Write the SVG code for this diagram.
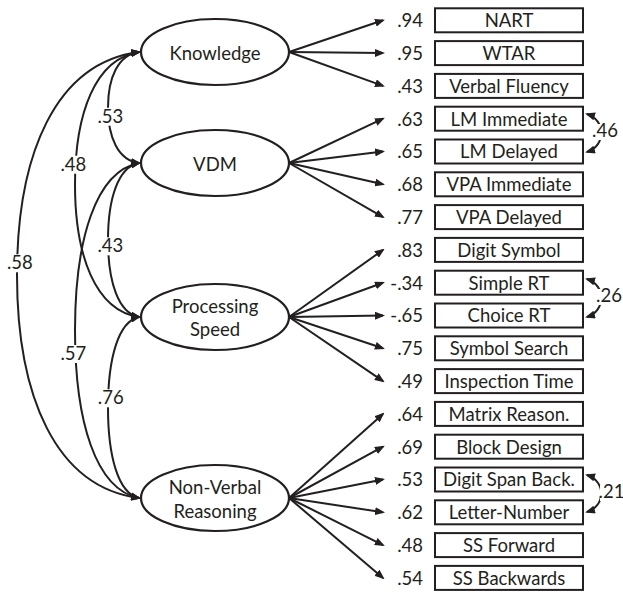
<svg xmlns="http://www.w3.org/2000/svg" width="623" height="592" viewBox="0 0 623 592">
<style>
text{font-family:Lato,"Liberation Sans",sans-serif;font-size:18.5px;fill:#231f20}
.c{text-anchor:middle}
.e{text-anchor:end}
.box{fill:#fff;stroke:#231f20;stroke-width:2}
.lat{fill:#fff;stroke:#231f20;stroke-width:2.2}
.ln{fill:none;stroke:#231f20;stroke-width:2}
.bg{fill:#fff}
</style>
<defs>
<marker id="ah" markerUnits="userSpaceOnUse" markerWidth="10" markerHeight="8" refX="8" refY="4" orient="auto-start-reverse" viewBox="0 0 10 8">
<path d="M0,0 L10,4 L0,8 z" fill="#231f20"/>
</marker>
</defs>

<g id="connectors">
<g id="loadings" class="ln" marker-end="url(#ah)">
<path d="M289,52 L383,20.3"/>
<path d="M289,52 L383,53.1"/>
<path d="M289,52 L383,85.9"/>
<path d="M289,163 L383,118.7"/>
<path d="M289,163 L383,151.5"/>
<path d="M289,163 L383,184.3"/>
<path d="M289,163 L383,217.1"/>
<path d="M289,317 L383,249.9"/>
<path d="M289,317 L383,282.7"/>
<path d="M289,317 L383,315.5"/>
<path d="M289,317 L383,348.3"/>
<path d="M289,317 L383,381.1"/>
<path d="M289,498 L383,413.9"/>
<path d="M289,498 L383,446.7"/>
<path d="M289,498 L383,479.5"/>
<path d="M289,498 L383,512.3"/>
<path d="M289,498 L383,545.1"/>
<path d="M289,498 L383,577.9"/>
</g>
<g id="correlations" class="ln" marker-start="url(#ah)" marker-end="url(#ah)">
<path d="M139,52 C55,63 17,155 17,275 C17,395 55,487 139,498"/>
<path d="M139,52 C95.5,58.6 75,113 75,184.5 C75,256 95.5,310.4 139,317"/>
<path d="M139,163 C95.5,171.4 75,240 75,330.5 C75,421 95.5,489.6 139,498"/>
<path d="M139,52 C118.2,54.8 108,77.5 108,107.5 C108,137.5 118.2,160.2 139,163"/>
<path d="M139,163 C118.2,166.9 108,198.4 108,240 C108,281.6 118.2,313.1 139,317"/>
<path d="M139,317 C118.2,321.5 108,358.6 108,407.5 C108,456.4 118.2,493.5 139,498"/>
<path d="M587,114 C606,120 606,146 587,152"/>
<path d="M587,279 C606,285 606,311 587,317"/>
<path d="M587,475 C606,481 606,506 587,512"/>
</g>
<g id="corr-labels">
<rect class="bg" x="97" y="107.7" width="27" height="18"/><text class="c" x="110.3" y="122.7">.53</text>
<rect class="bg" x="60" y="155.7" width="27" height="18"/><text class="c" x="73.3" y="170.7">.48</text>
<rect class="bg" x="6" y="254.3" width="27" height="18"/><text class="c" x="19.8" y="269.3">.58</text>
<rect class="bg" x="97" y="237.3" width="27" height="18"/><text class="c" x="110.3" y="252.3">.43</text>
<rect class="bg" x="60" y="345" width="27" height="18"/><text class="c" x="73.3" y="360">.57</text>
<rect class="bg" x="97" y="389.3" width="27" height="18"/><text class="c" x="110.7" y="404.3">.76</text>
<rect class="bg" x="592" y="124" width="26" height="16"/><text class="c" x="605" y="137">.46</text>
<rect class="bg" x="597" y="289" width="25" height="16"/><text class="c" x="609" y="302.3">.26</text>
<rect class="bg" x="600" y="485" width="23" height="16"/><text class="c" x="611.5" y="498.3">.21</text>
</g>
</g>

<g id="knowledge"><ellipse class="lat" cx="215" cy="52" rx="74" ry="33"/><text class="c" x="215" y="59.5">Knowledge</text></g>
<g id="vdm"><ellipse class="lat" cx="215" cy="163" rx="74" ry="33"/><text class="c" x="215" y="170.5">VDM</text></g>
<g id="processing-speed"><ellipse class="lat" cx="215" cy="317" rx="74" ry="33"/><text class="c" x="215" y="312.5">Processing</text><text class="c" x="215" y="336">Speed</text></g>
<g id="non-verbal-reasoning"><ellipse class="lat" cx="215" cy="498" rx="74" ry="33"/><text class="c" x="215" y="494">Non-Verbal</text><text class="c" x="215" y="518.3">Reasoning</text></g>

<g id="nart"><rect class="box" x="435" y="8.3" width="148" height="24"/><text class="c" x="509" y="27.1">NART</text><text class="e" x="423" y="27.1">.94</text></g>
<g id="wtar"><rect class="box" x="435" y="41.1" width="148" height="24"/><text class="c" x="509" y="59.9">WTAR</text><text class="e" x="423" y="59.9">.95</text></g>
<g id="verbal-fluency"><rect class="box" x="435" y="73.9" width="148" height="24"/><text class="c" x="509" y="92.7">Verbal Fluency</text><text class="e" x="423" y="92.7">.43</text></g>
<g id="lm-immediate"><rect class="box" x="435" y="106.7" width="148" height="24"/><text class="c" x="509" y="125.5">LM Immediate</text><text class="e" x="423" y="125.5">.63</text></g>
<g id="lm-delayed"><rect class="box" x="435" y="139.5" width="148" height="24"/><text class="c" x="509" y="158.3">LM Delayed</text><text class="e" x="423" y="158.3">.65</text></g>
<g id="vpa-immediate"><rect class="box" x="435" y="172.3" width="148" height="24"/><text class="c" x="509" y="191.1">VPA Immediate</text><text class="e" x="423" y="191.1">.68</text></g>
<g id="vpa-delayed"><rect class="box" x="435" y="205.1" width="148" height="24"/><text class="c" x="509" y="223.9">VPA Delayed</text><text class="e" x="423" y="223.9">.77</text></g>
<g id="digit-symbol"><rect class="box" x="435" y="237.9" width="148" height="24"/><text class="c" x="509" y="256.7">Digit Symbol</text><text class="e" x="423" y="256.7">.83</text></g>
<g id="simple-rt"><rect class="box" x="435" y="270.7" width="148" height="24"/><text class="c" x="509" y="289.5">Simple RT</text><text class="e" x="423" y="289.5">-.34</text></g>
<g id="choice-rt"><rect class="box" x="435" y="303.5" width="148" height="24"/><text class="c" x="509" y="322.3">Choice RT</text><text class="e" x="423" y="322.3">-.65</text></g>
<g id="symbol-search"><rect class="box" x="435" y="336.3" width="148" height="24"/><text class="c" x="509" y="355.1">Symbol Search</text><text class="e" x="423" y="355.1">.75</text></g>
<g id="inspection-time"><rect class="box" x="435" y="369.1" width="148" height="24"/><text class="c" x="509" y="387.9">Inspection Time</text><text class="e" x="423" y="387.9">.49</text></g>
<g id="matrix-reason"><rect class="box" x="435" y="401.9" width="148" height="24"/><text class="c" x="509" y="420.7">Matrix Reason.</text><text class="e" x="423" y="420.7">.64</text></g>
<g id="block-design"><rect class="box" x="435" y="434.7" width="148" height="24"/><text class="c" x="509" y="453.5">Block Design</text><text class="e" x="423" y="453.5">.69</text></g>
<g id="digit-span-back"><rect class="box" x="435" y="467.5" width="148" height="24"/><text class="c" x="509" y="486.3">Digit Span Back.</text><text class="e" x="423" y="486.3">.53</text></g>
<g id="letter-number"><rect class="box" x="435" y="500.3" width="148" height="24"/><text class="c" x="509" y="519.1">Letter-Number</text><text class="e" x="423" y="519.1">.62</text></g>
<g id="ss-forward"><rect class="box" x="435" y="533.1" width="148" height="24"/><text class="c" x="509" y="551.9">SS Forward</text><text class="e" x="423" y="551.9">.48</text></g>
<g id="ss-backwards"><rect class="box" x="435" y="565.9" width="148" height="24"/><text class="c" x="509" y="584.7">SS Backwards</text><text class="e" x="423" y="584.7">.54</text></g>
</svg>
